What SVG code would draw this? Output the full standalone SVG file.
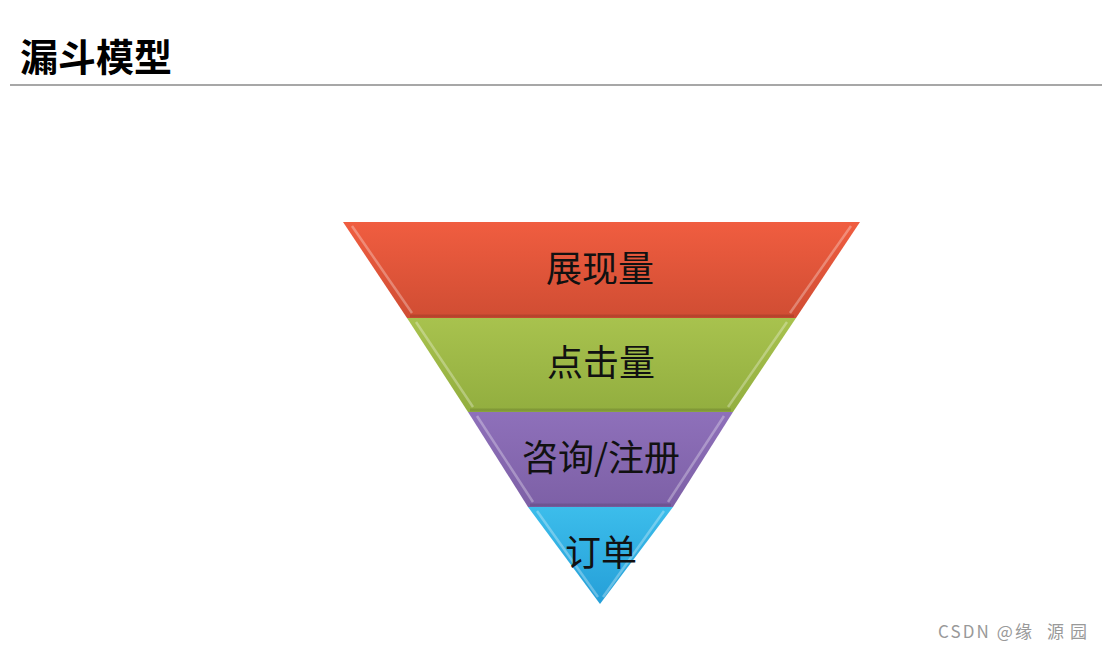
<svg xmlns="http://www.w3.org/2000/svg" width="1102" height="649" viewBox="0 0 1102 649">
<style>
.lbl{font-family:"Noto Sans CJK SC","Liberation Sans",sans-serif;font-size:36px;fill:#111;text-anchor:middle}
.hl{stroke:#fff;stroke-opacity:0.3;stroke-width:2.5;fill:none}
.sh{stroke:#000;stroke-opacity:0.12;stroke-width:3;fill:none}
.wm{font-family:"Noto Sans CJK SC","Liberation Sans",sans-serif;font-size:17px;fill:#999}
</style>
<defs>
<linearGradient id="gr" x1="0" y1="0" x2="0" y2="1"><stop offset="0" stop-color="#F05D40"/><stop offset="1" stop-color="#D04D33"/></linearGradient>
<linearGradient id="gg" x1="0" y1="0" x2="0" y2="1"><stop offset="0" stop-color="#A8C24E"/><stop offset="1" stop-color="#92AE3F"/></linearGradient>
<linearGradient id="gp" x1="0" y1="0" x2="0" y2="1"><stop offset="0" stop-color="#8E70BA"/><stop offset="1" stop-color="#7D60A6"/></linearGradient>
<linearGradient id="gb" x1="0" y1="0" x2="0" y2="1"><stop offset="0" stop-color="#3CBDEB"/><stop offset="1" stop-color="#259FD8"/></linearGradient>
</defs>
<rect width="1102" height="649" fill="#fff"/>
<g id="title">
<text x="20" y="71" font-family="Noto Sans CJK SC,Liberation Sans,sans-serif" font-size="38" font-weight="bold" fill="#000">漏斗模型</text>
<line x1="10" y1="85" x2="1102" y2="85" stroke="#8a8a8a" stroke-width="1.5"/>
</g>
<g id="layer1">
<polygon points="343,222 860,222 796,318 407,318" fill="url(#gr)"/>
<polyline class="hl" points="352,226 412,313"/>
<polyline class="hl" points="851,226 790,313"/>
<line class="sh" x1="410" y1="316" x2="794" y2="316"/>
<text class="lbl" x="600" y="282">展现量</text>
</g>
<g id="layer2">
<polygon points="407,318 796,318 733,412 468,412" fill="url(#gg)"/>
<polyline class="hl" points="416,322 473,407"/>
<polyline class="hl" points="787,322 728,407"/>
<line class="sh" x1="470" y1="410" x2="731" y2="410"/>
<text class="lbl" x="601" y="376">点击量</text>
</g>
<g id="layer3">
<polygon points="468,412 733,412 673,507 528,507" fill="url(#gp)"/>
<polyline class="hl" points="477,416 533,502"/>
<polyline class="hl" points="724,416 668,502"/>
<line class="sh" x1="530" y1="505" x2="671" y2="505"/>
<text class="lbl" x="601" y="471">咨询/注册</text>
</g>
<g id="layer4">
<polygon points="528,507 673,507 600,604" fill="url(#gb)"/>
<polyline class="hl" points="537,511 598,597"/>
<polyline class="hl" points="664,511 603,597"/>
<text class="lbl" x="601" y="566">订单</text>
</g>
<g id="watermark">
<text class="wm" x="938" y="638" textLength="94" lengthAdjust="spacing">CSDN @缘</text>
<text class="wm" x="1047" y="638">源</text>
<text class="wm" x="1070" y="638">园</text>
</g>
</svg>
